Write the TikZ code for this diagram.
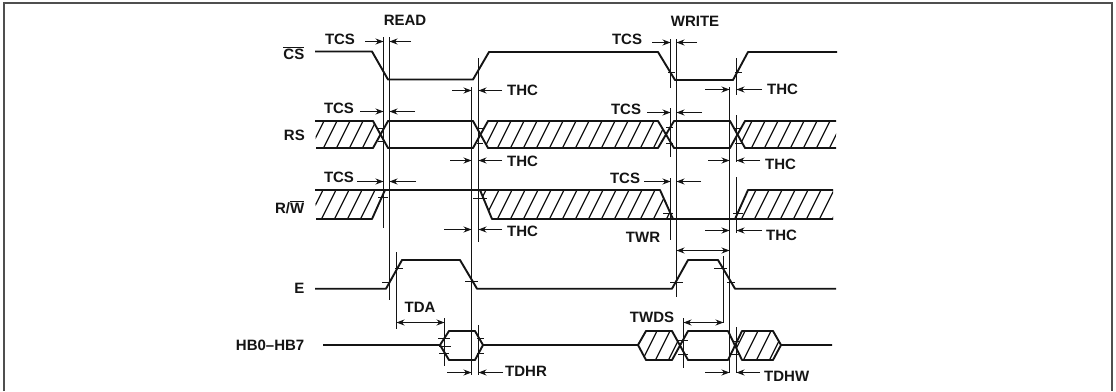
\documentclass[tikz,border=0pt]{standalone}
\usepackage{fontspec}
\setmainfont{Liberation Sans}
\usetikzlibrary{arrows.meta}
\definecolor{ink}{HTML}{141414}
\tikzset{
  sig/.style={line width=1.9pt,color=ink,line join=round},
  guide/.style={line width=1.2pt,color=ink},
  hatchline/.style={line width=1.3pt,color=ink},
  tick/.style={line width=1.2pt,color=ink},
  dim/.style={line width=1pt,color=ink,-{Stealth[length=8pt,width=6pt]}},
  ddim/.style={line width=1pt,color=ink,{Stealth[length=8pt,width=6pt]}-{Stealth[length=8pt,width=6pt]}},
  lab/.style={inner sep=0pt,font=\fontsize{15}{15}\selectfont\bfseries,color=ink},
  labl/.style={lab,anchor=west},
  labr/.style={lab,anchor=east},
}
% hatch inside a closed polygon
\newcommand{\hatchin}[4]{% polygon path, x-from, x-to, y-bottom
  \begin{scope}
    \clip #1;
    \pgfmathsetmacro{\hstart}{#2}
    \pgfmathsetmacro{\hnext}{#2+13}
    \foreach \hx in {\hstart,\hnext,...,#3}{
      \draw[hatchline] (\hx,#4) -- ++(17.5,-35);
    }
  \end{scope}
}
\newcommand{\dimpair}[5]{% y, left-from, left-to, right-from, right-to
  \draw[dim] (#2,#1) -- (#3,#1);
  \draw[dim] (#4,#1) -- (#5,#1);
}
\newcommand{\tk}[3]{\draw[tick] (#1,#3) -- (#2,#3);}
\begin{document}
\begin{tikzpicture}[x=1pt,y=-1pt]
\useasboundingbox (0,0) rectangle (1116,391);
\fill[white] (0,0) rectangle (1116,391);
% frame
\draw[line width=1.1pt,color=ink!75] (4,391) -- (4,3) -- (1112,3) -- (1112,391);

% ---------- hatching
\hatchin{(315,121) -- (373,121) -- (380.5,134.5) -- (373,148) -- (316,148) -- cycle}{307}{390}{155}
\hatchin{(488,121) -- (658,121) -- (666,134.5) -- (658,148) -- (488,148) -- (480.5,134.5) -- cycle}{468}{670}{155}
\hatchin{(745,121) -- (836,121) -- (836,148) -- (745,148) -- (737.5,134.5) -- cycle}{722}{840}{155}
\hatchin{(315,190) -- (385,190) -- (372,219) -- (316,219) -- cycle}{305}{390}{226}
\hatchin{(480,190) -- (660,190) -- (673,219) -- (492,219) -- cycle}{468}{675}{226}
\hatchin{(748,190) -- (833,190) -- (833,219) -- (735,219) -- cycle}{725}{835}{226}
\hatchin{(638,345) -- (646,331) -- (672,331) -- (680,345.5) -- (672,360) -- (646,360) -- cycle}{626}{682}{367}
\hatchin{(735,345.5) -- (742,331) -- (773,331) -- (781,345) -- (773,360) -- (742,360) -- cycle}{727}{782}{367}

% ---------- signals
\draw[sig] (315,51.5) -- (372,51.5) -- (388,79.5) -- (473,79.5) -- (489,52) -- (658,52) -- (675,80) -- (733,80) -- (748,52) -- (837,52);
% RS
\draw[sig] (315,121) -- (373,121) -- (388,148) -- (473,148) -- (488,121) -- (658,121) -- (674,148) -- (730,148) -- (745,121) -- (836,121);
\draw[sig] (316,148) -- (373,148) -- (388,121) -- (473,121) -- (488,148) -- (658,148) -- (674,121) -- (730,121) -- (745,148) -- (836,148);
% R/W
\draw[sig] (315,190) -- (660,190) -- (673,219) -- (833,219);
\draw[sig] (316,219) -- (372,219) -- (385,190);
\draw[sig] (480,190) -- (492,219) -- (673,219);
\draw[sig] (735,219) -- (748,190) -- (833,190);
% E
\draw[sig] (315,288.7) -- (386,288.7) -- (402,260) -- (460,260) -- (477,288.7) -- (672,288.7) -- (688,260) -- (718,260) -- (735,288.7) -- (836,288.7);
% HB
\draw[sig] (323,345) -- (440,345) -- (449,331) -- (475,331) -- (483,345) -- (636,345);
\draw[sig] (440,345) -- (449,360) -- (475,360) -- (483,345);
\draw[sig] (636,345) -- (638,345) -- (646,331) -- (672,331) -- (688,360) -- (728,360) -- (742,331) -- (773,331) -- (781,345) -- (832,345);
\draw[sig] (638,345) -- (646,360) -- (672,360) -- (688,331) -- (728,331) -- (742,360) -- (773,360) -- (781,345);

% ---------- guide lines
\draw[guide] (383.5,37) -- (383.5,228);
\draw[guide] (389.5,37) -- (389.5,300);
\draw[guide] (471.5,87) -- (471.5,375);
\draw[guide] (478.5,58) -- (478.5,242);
\draw[guide] (396.5,252) -- (396.5,329);
\draw[guide] (444.5,318) -- (444.5,366);
\draw[guide] (478.5,325) -- (478.5,375);
\draw[guide] (670.5,39) -- (670.5,88);
\draw[guide] (670.5,108) -- (670.5,157);
\draw[guide] (670.5,178) -- (670.5,240);
\draw[guide] (676.5,39) -- (676.5,297);
\draw[guide] (729.5,87) -- (729.5,373);
\draw[guide] (736.5,58) -- (736.5,95);
\draw[guide] (736.5,115) -- (736.5,162);
\draw[guide] (736.5,177) -- (736.5,233);
\draw[guide] (723.5,256) -- (723.5,323);
\draw[guide] (683.5,318) -- (683.5,368);
\draw[guide] (736.5,327) -- (736.5,373);

% ---------- ticks
\tk{668}{675}{72.5}\tk{735}{742}{72.5}
\tk{378}{384}{128.5}\tk{378}{384}{141.5}\tk{477}{483}{128.5}\tk{477}{483}{143.5}
\tk{666}{673}{127.5}\tk{666}{673}{143.5}\tk{735}{742}{128.5}\tk{735}{742}{143.5}
\tk{378}{388}{197.5}\tk{473}{487}{198.5}\tk{663}{673}{213.5}\tk{733}{743}{213.5}
\tk{382}{390}{282.5}\tk{395}{403}{268.5}\tk{465}{478}{281.5}
\tk{670}{683}{282.5}\tk{714}{727}{268.5}\tk{727}{735}{282.5}
\tk{438}{450}{338.5}\tk{439}{451}{346.5}\tk{439}{449}{353.5}\tk{477}{484}{338.5}\tk{477}{484}{353.5}
\tk{678}{688}{340.5}\tk{678}{688}{354.5}\tk{732}{740}{341.5}\tk{730}{739}{354.5}

% ---------- dimension arrows, READ
\dimpair{41.5}{365}{383.5}{411}{389.5}
\dimpair{111.5}{360}{383.5}{415}{389.5}
\dimpair{181.5}{357}{383.5}{416}{389.5}
\dimpair{90.5}{452}{471.5}{502}{478.5}
\dimpair{160.5}{450}{471.5}{502}{478.5}
\dimpair{229.5}{444}{471.5}{502}{478.5}
\dimpair{372.5}{447}{471.5}{503}{478.5}
\draw[ddim] (396.5,322.5) -- (444.5,322.5);
% ---------- dimension arrows, WRITE
\dimpair{42.5}{652}{670.5}{697}{676.5}
\dimpair{112.5}{647}{670.5}{702}{676.5}
\dimpair{181.5}{644}{670.5}{701}{676.5}
\dimpair{89.5}{705}{729.5}{762}{736.5}
\dimpair{160.5}{708}{729.5}{760}{736.5}
\dimpair{230.5}{705}{729.5}{762}{736.5}
\dimpair{372.5}{705}{729.5}{760}{736.5}
\draw[ddim] (676.5,250.5) -- (729.5,250.5);
\draw[ddim] (683.5,322.5) -- (723.5,322.5);

% ---------- labels
\node[lab] (read) at (405,20.7) {READ};
\node[lab] (write) at (695,21) {WRITE};
\node[labr] (sigcs) at (304.5,53) {$\overline{\mbox{CS}}$};
\node[labr] (sigrs) at (305,135) {RS};
\node[labr] (sigrw) at (304.5,207) {R/$\overline{\mbox{W}}$};
\node[labr] (sige) at (304.5,288.5) {E};
\node[labr] (sighb) at (304.5,345.5) {HB0–HB7};
\node[lab] (tcsa) at (340,39) {TCS};
\node[lab] (tcsb) at (339,108.7) {TCS};
\node[lab] (tcsc) at (339,177) {TCS};
\node[lab] (tcsd) at (627,39) {TCS};
\node[lab] (tcse) at (626,109) {TCS};
\node[lab] (tcsf) at (625,178) {TCS};
\node[labl] (thca) at (507,90) {THC};
\node[labl] (thcb) at (507,161) {THC};
\node[labl] (thcc) at (507,231) {THC};
\node[labl] (thcd) at (767,89) {THC};
\node[labl] (thce) at (765,164) {THC};
\node[labl] (thcf) at (766,235) {THC};
\node[lab] (twr) at (643,237) {TWR};
\node[lab] (twds) at (652,317) {TWDS};
\node[lab] (tda) at (420,307) {TDA};
\node[labl] (tdhr) at (505,371) {TDHR};
\node[labl] (tdhw) at (764,376) {TDHW};
\end{tikzpicture}
\end{document}
